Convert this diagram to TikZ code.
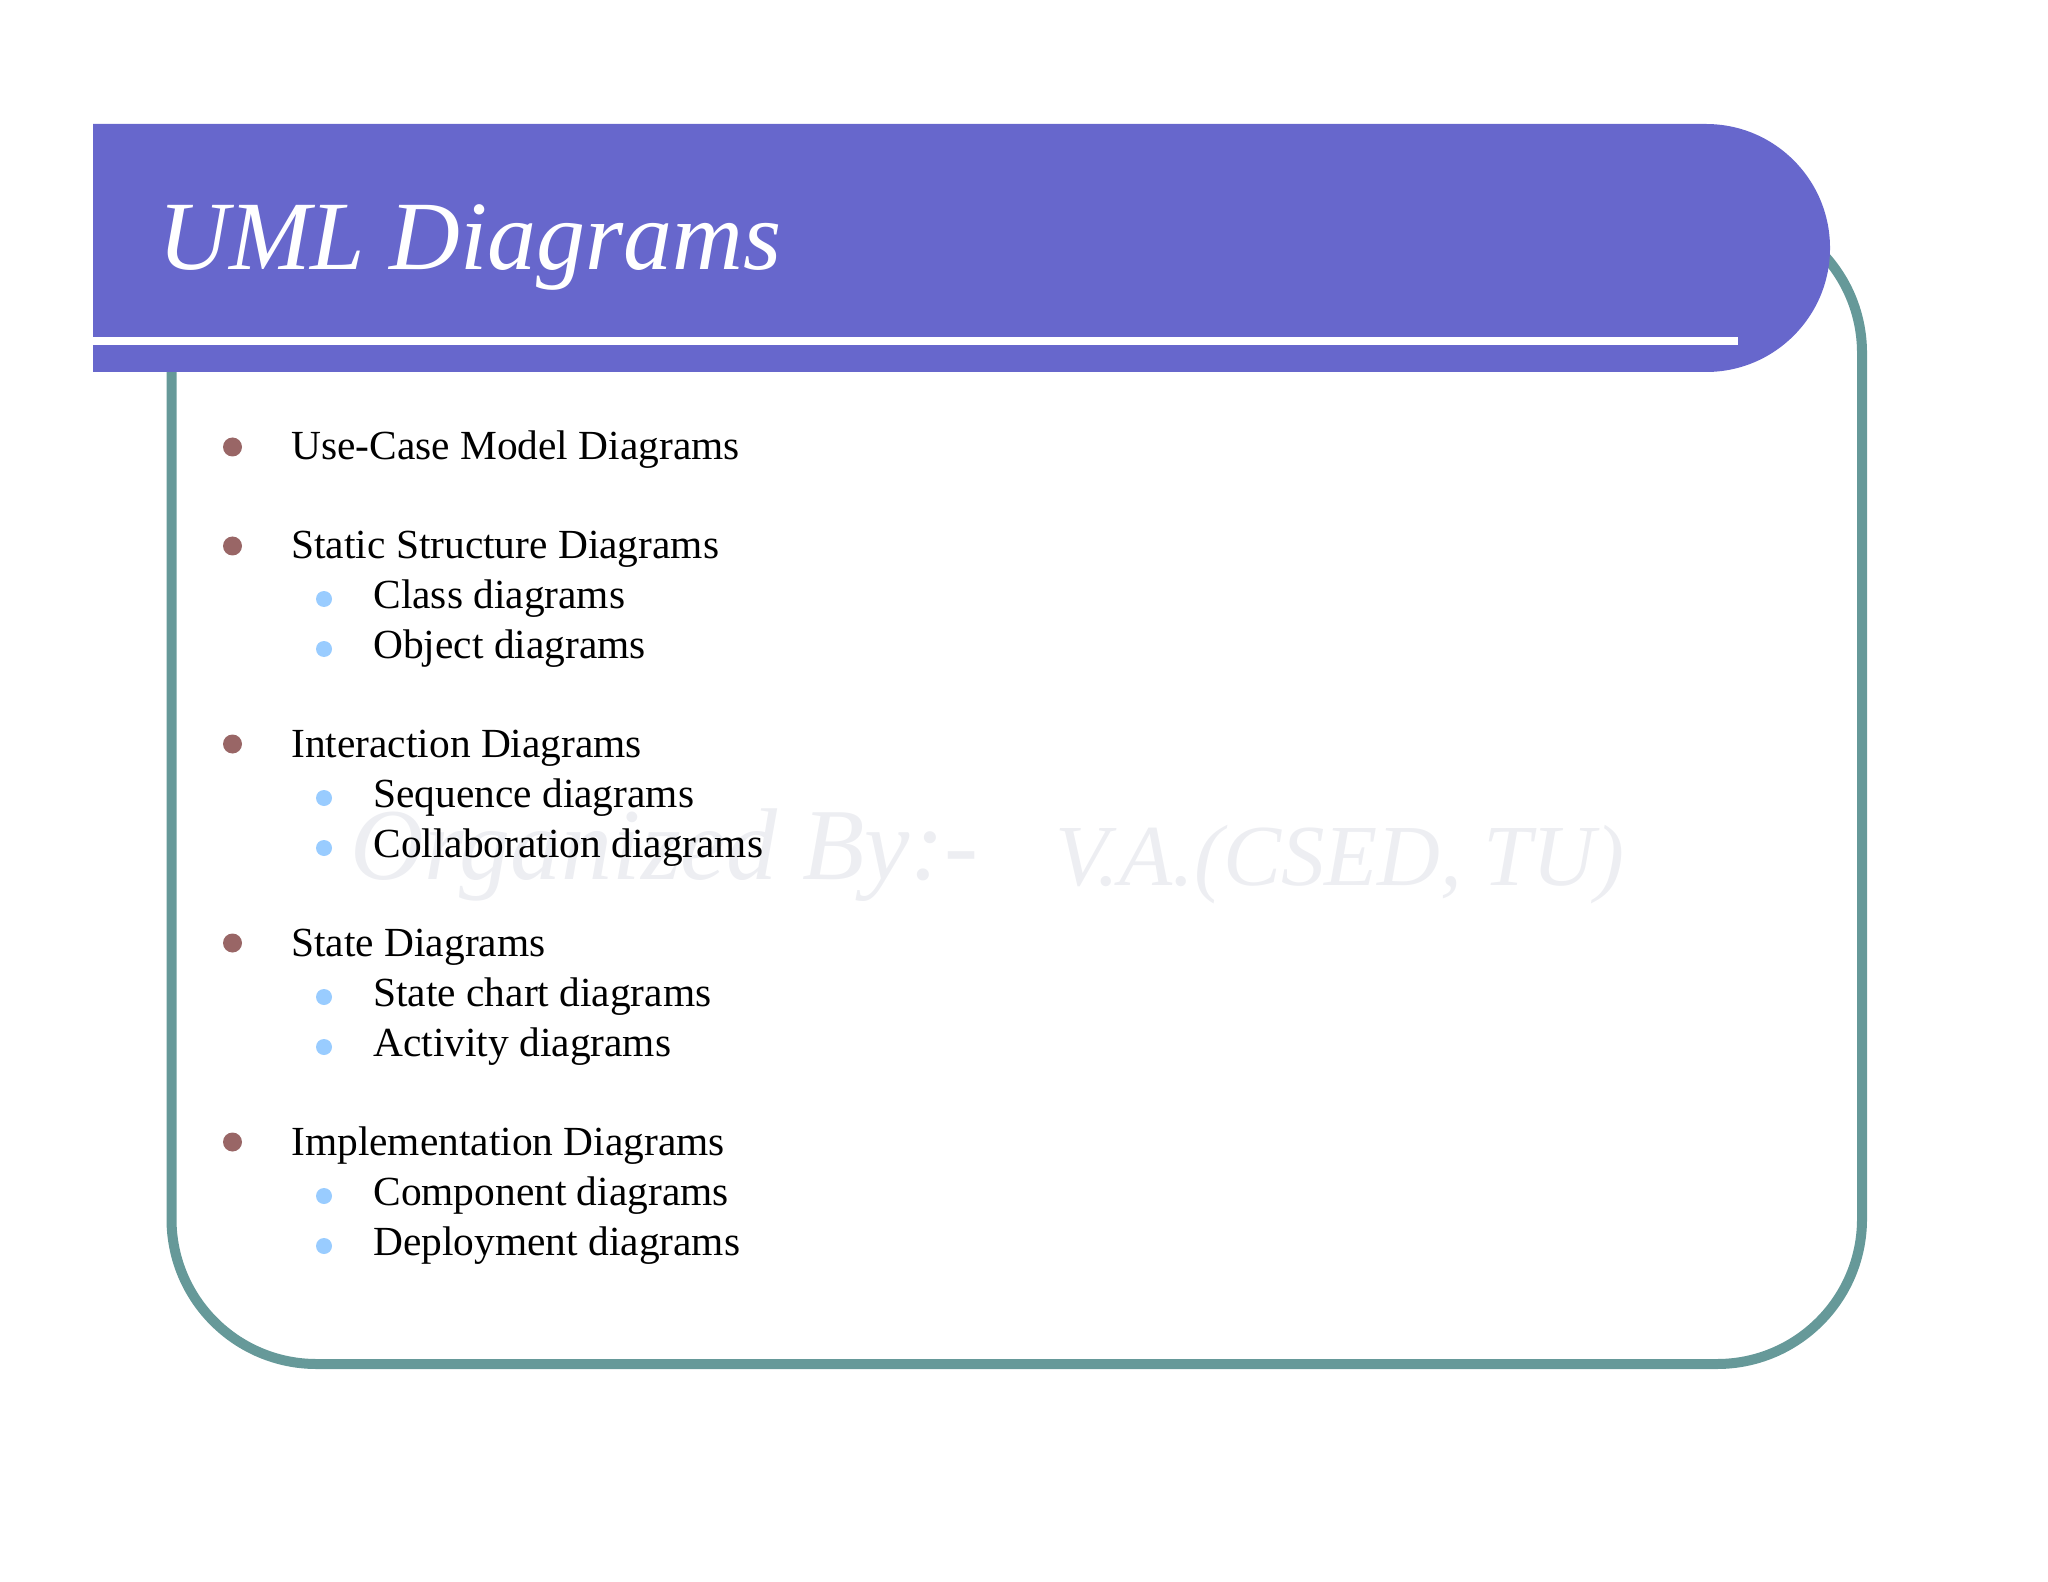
\documentclass[tikz,border=0pt]{standalone}
\usepackage{fontspec}
\setmainfont{Liberation Serif}
\usepackage{tikz}

\definecolor{bannerblue}{RGB}{103,103,204}
\definecolor{framegreen}{RGB}{102,153,153}
\definecolor{dotbrown}{RGB}{153,102,102}
\definecolor{dotblue}{RGB}{153,204,255}
\definecolor{markgrey}{RGB}{237,238,242}

\begin{document}
\begin{tikzpicture}[x=0.5pt,y=0.5pt,yscale=-1,
  itemtext/.style={anchor=base west,inner sep=0pt,font=\fontsize{20.7}{24}\selectfont},
  dotone/.style={circle,fill=dotbrown,inner sep=0pt,minimum size=9.5pt},
  dottwo/.style={circle,fill=dotblue,inner sep=0pt,minimum size=8pt},
  marktext/.style={anchor=base west,inner sep=0pt,text=markgrey}]
%set the slide size
\path[use as bounding box] (0,0) rectangle (2048,1582);

%Rounded Rect [frame]
\draw[framegreen,line width=5pt,rounded corners=72.5pt] (171.5,208) rectangle (1862,1364);

%Shape: Banner
\fill[bannerblue] (93,124) -- (1706,124) .. controls (1774.5,124) and (1830,179.5) .. (1830,248) .. controls (1830,316.5) and (1774.5,372) .. (1706,372) -- (93,372) -- cycle;
%Straight Lines [white rule]
\fill[white] (93,337) rectangle (1738,345);

% Title
\node[anchor=base west,inner sep=0pt,text=white,font=\fontsize{49}{58}\selectfont\itshape] (title) at (158,270) {UML Diagrams};

% Watermark
\node[marktext,font=\fontsize{51}{58}\selectfont\itshape] (markA) at (350,879) {Organized By:-};
\node[marktext,font=\fontsize{43.5}{50}\selectfont\itshape] (markB) at (1055,885) {V.A.(CSED, TU)};

% Use-Case
\node[dotone] (dUse) at (232.5,447) {};
\node[itemtext] (tUse) at (291,460) {Use-Case Model Diagrams};
% Static
\node[dotone] (dStatic) at (232.5,546) {};
\node[itemtext] (tStatic) at (291,559) {Static Structure Diagrams};
\node[dottwo] (dClass) at (324,599) {};
\node[itemtext] (tClass) at (373,608) {Class diagrams};
\node[dottwo] (dObject) at (324,649) {};
\node[itemtext] (tObject) at (373,658) {Object diagrams};
% Interaction
\node[dotone] (dInter) at (232.5,744) {};
\node[itemtext] (tInter) at (291,757) {Interaction Diagrams};
\node[dottwo] (dSeq) at (324,798) {};
\node[itemtext] (tSeq) at (373,807) {Sequence diagrams};
\node[dottwo] (dCollab) at (324,848) {};
\node[itemtext] (tCollab) at (373,857) {Collaboration diagrams};
% State
\node[dotone] (dState) at (232.5,943) {};
\node[itemtext] (tState) at (291,956) {State Diagrams};
\node[dottwo] (dChart) at (324,997) {};
\node[itemtext] (tChart) at (373,1006) {State chart diagrams};
\node[dottwo] (dAct) at (324,1047) {};
\node[itemtext] (tAct) at (373,1056) {Activity diagrams};
% Implementation
\node[dotone] (dImpl) at (232.5,1142) {};
\node[itemtext] (tImpl) at (291,1155) {Implementation Diagrams};
\node[dottwo] (dComp) at (324,1196) {};
\node[itemtext] (tComp) at (373,1205) {Component diagrams};
\node[dottwo] (dDeploy) at (324,1246) {};
\node[itemtext] (tDeploy) at (373,1255) {Deployment diagrams};

\end{tikzpicture}
\end{document}
